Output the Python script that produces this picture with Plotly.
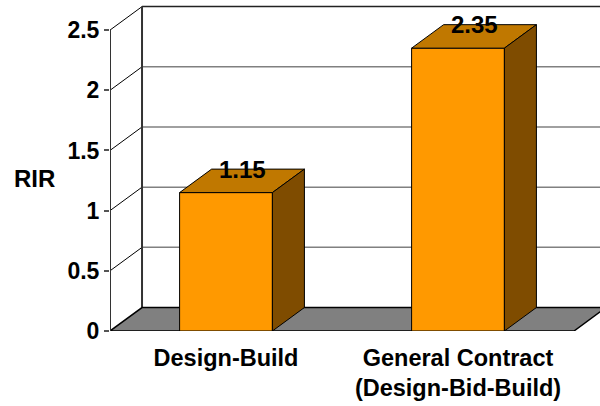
import plotly.graph_objects as go

# ---- data ----
categories = ["Design-Build", "General Contract<br>(Design-Bid-Build)"]
values = [1.15, 2.35]
value_labels = ["1.15", "2.35"]
y_ticks = [0, 0.5, 1, 1.5, 2, 2.5]
y_tick_labels = ["0", "0.5", "1", "1.5", "2", "2.5"]
y_title = "RIR"

# ---- style / geometry (in axis units) ----
FRONT = "#FF9900"
TOP = "#C07800"
SIDE = "#7F4C00"
FLOOR = "#808080"
GRID = "#808080"
DARK = "#000000"
FONT = "Liberation Sans, Arial, sans-serif"

half_w = 0.2          # half bar width (category units)
dx, dy = 0.138, 0.195  # oblique depth offset
x_left, x_right = -0.5, len(categories) - 0.5
y_max = max(y_ticks)
x_range = [-0.5, -0.5 + 490 / 232]
y_range = [0, 2.75]

fig = go.Figure()

def poly(xs, ys, fill, line_color=DARK, width=1):
    fig.add_trace(go.Scatter(
        x=xs + [xs[0]], y=ys + [ys[0]], mode="lines", fill="toself",
        fillcolor=fill, line=dict(color=line_color, width=width),
        hoverinfo="skip", showlegend=False))

def seg(xs, ys, color, width):
    fig.add_trace(go.Scatter(
        x=xs, y=ys, mode="lines", line=dict(color=color, width=width),
        hoverinfo="skip", showlegend=False))

# back wall gridlines
for t in y_ticks[1:-1]:
    seg([x_left + dx, x_range[1] + 1], [t + dy, t + dy], GRID, 1.5)
# back wall top
seg([x_left + dx, x_range[1] + 1], [y_max + dy, y_max + dy], "#222222", 1.5)
# side wall diagonals
for t in y_ticks[1:]:
    seg([x_left, x_left + dx], [t, t + dy], DARK, 1)
# back wall left edge
seg([x_left + dx, x_left + dx], [dy, y_max + dy], "#333333", 2)
# floor
poly([x_left, x_right, x_right + dx, x_left + dx], [0, 0, dy, dy], FLOOR, DARK, 1.5)
# front axis line
seg([x_left, x_left], [0, y_max], "#333333", 2)

# bars
for i, v in enumerate(values):
    x0, x1 = i - half_w, i + half_w
    poly([x0, x1, x1, x0], [0, 0, v, v], FRONT)
    poly([x0, x1, x1 + dx, x0 + dx], [v, v, v + dy, v + dy], TOP)
    poly([x1, x1 + dx, x1 + dx, x1], [0, dy, v + dy, v], SIDE)
    fig.add_annotation(x=i + dx / 2, y=v + dy, text=value_labels[i],
                       showarrow=False, xanchor="center", yanchor="middle",
                       font=dict(family=FONT, size=24, color="black", weight="bold"))

fig.add_annotation(xref="paper", yref="y", x=(34.5 - 110) / 490, y=1.27, text=y_title,
                   showarrow=False, xanchor="center", yanchor="middle",
                   font=dict(family=FONT, size=24, color="black", weight="bold"))

fig.update_layout(
    width=600, height=406,
    margin=dict(l=110, r=0, t=0, b=75),
    paper_bgcolor="white", plot_bgcolor="white",
    xaxis=dict(range=x_range, tickmode="array", tickvals=list(range(len(categories))),
               ticktext=categories, showgrid=False, zeroline=False, showline=False,
               ticks="", ticklabelstandoff=10,
               tickfont=dict(family=FONT, size=23.5, color="black", weight="bold"),
               fixedrange=True),
    yaxis=dict(range=y_range, tickmode="array", tickvals=y_ticks, ticktext=y_tick_labels,
               showgrid=False, zeroline=False, showline=False, ticks="outside",
               ticklen=5, tickwidth=1.5, tickcolor="#555555",
               tickfont=dict(family=FONT, size=23, color="black", weight="bold"),
               fixedrange=True),
)

fig.write_html("out.html")
